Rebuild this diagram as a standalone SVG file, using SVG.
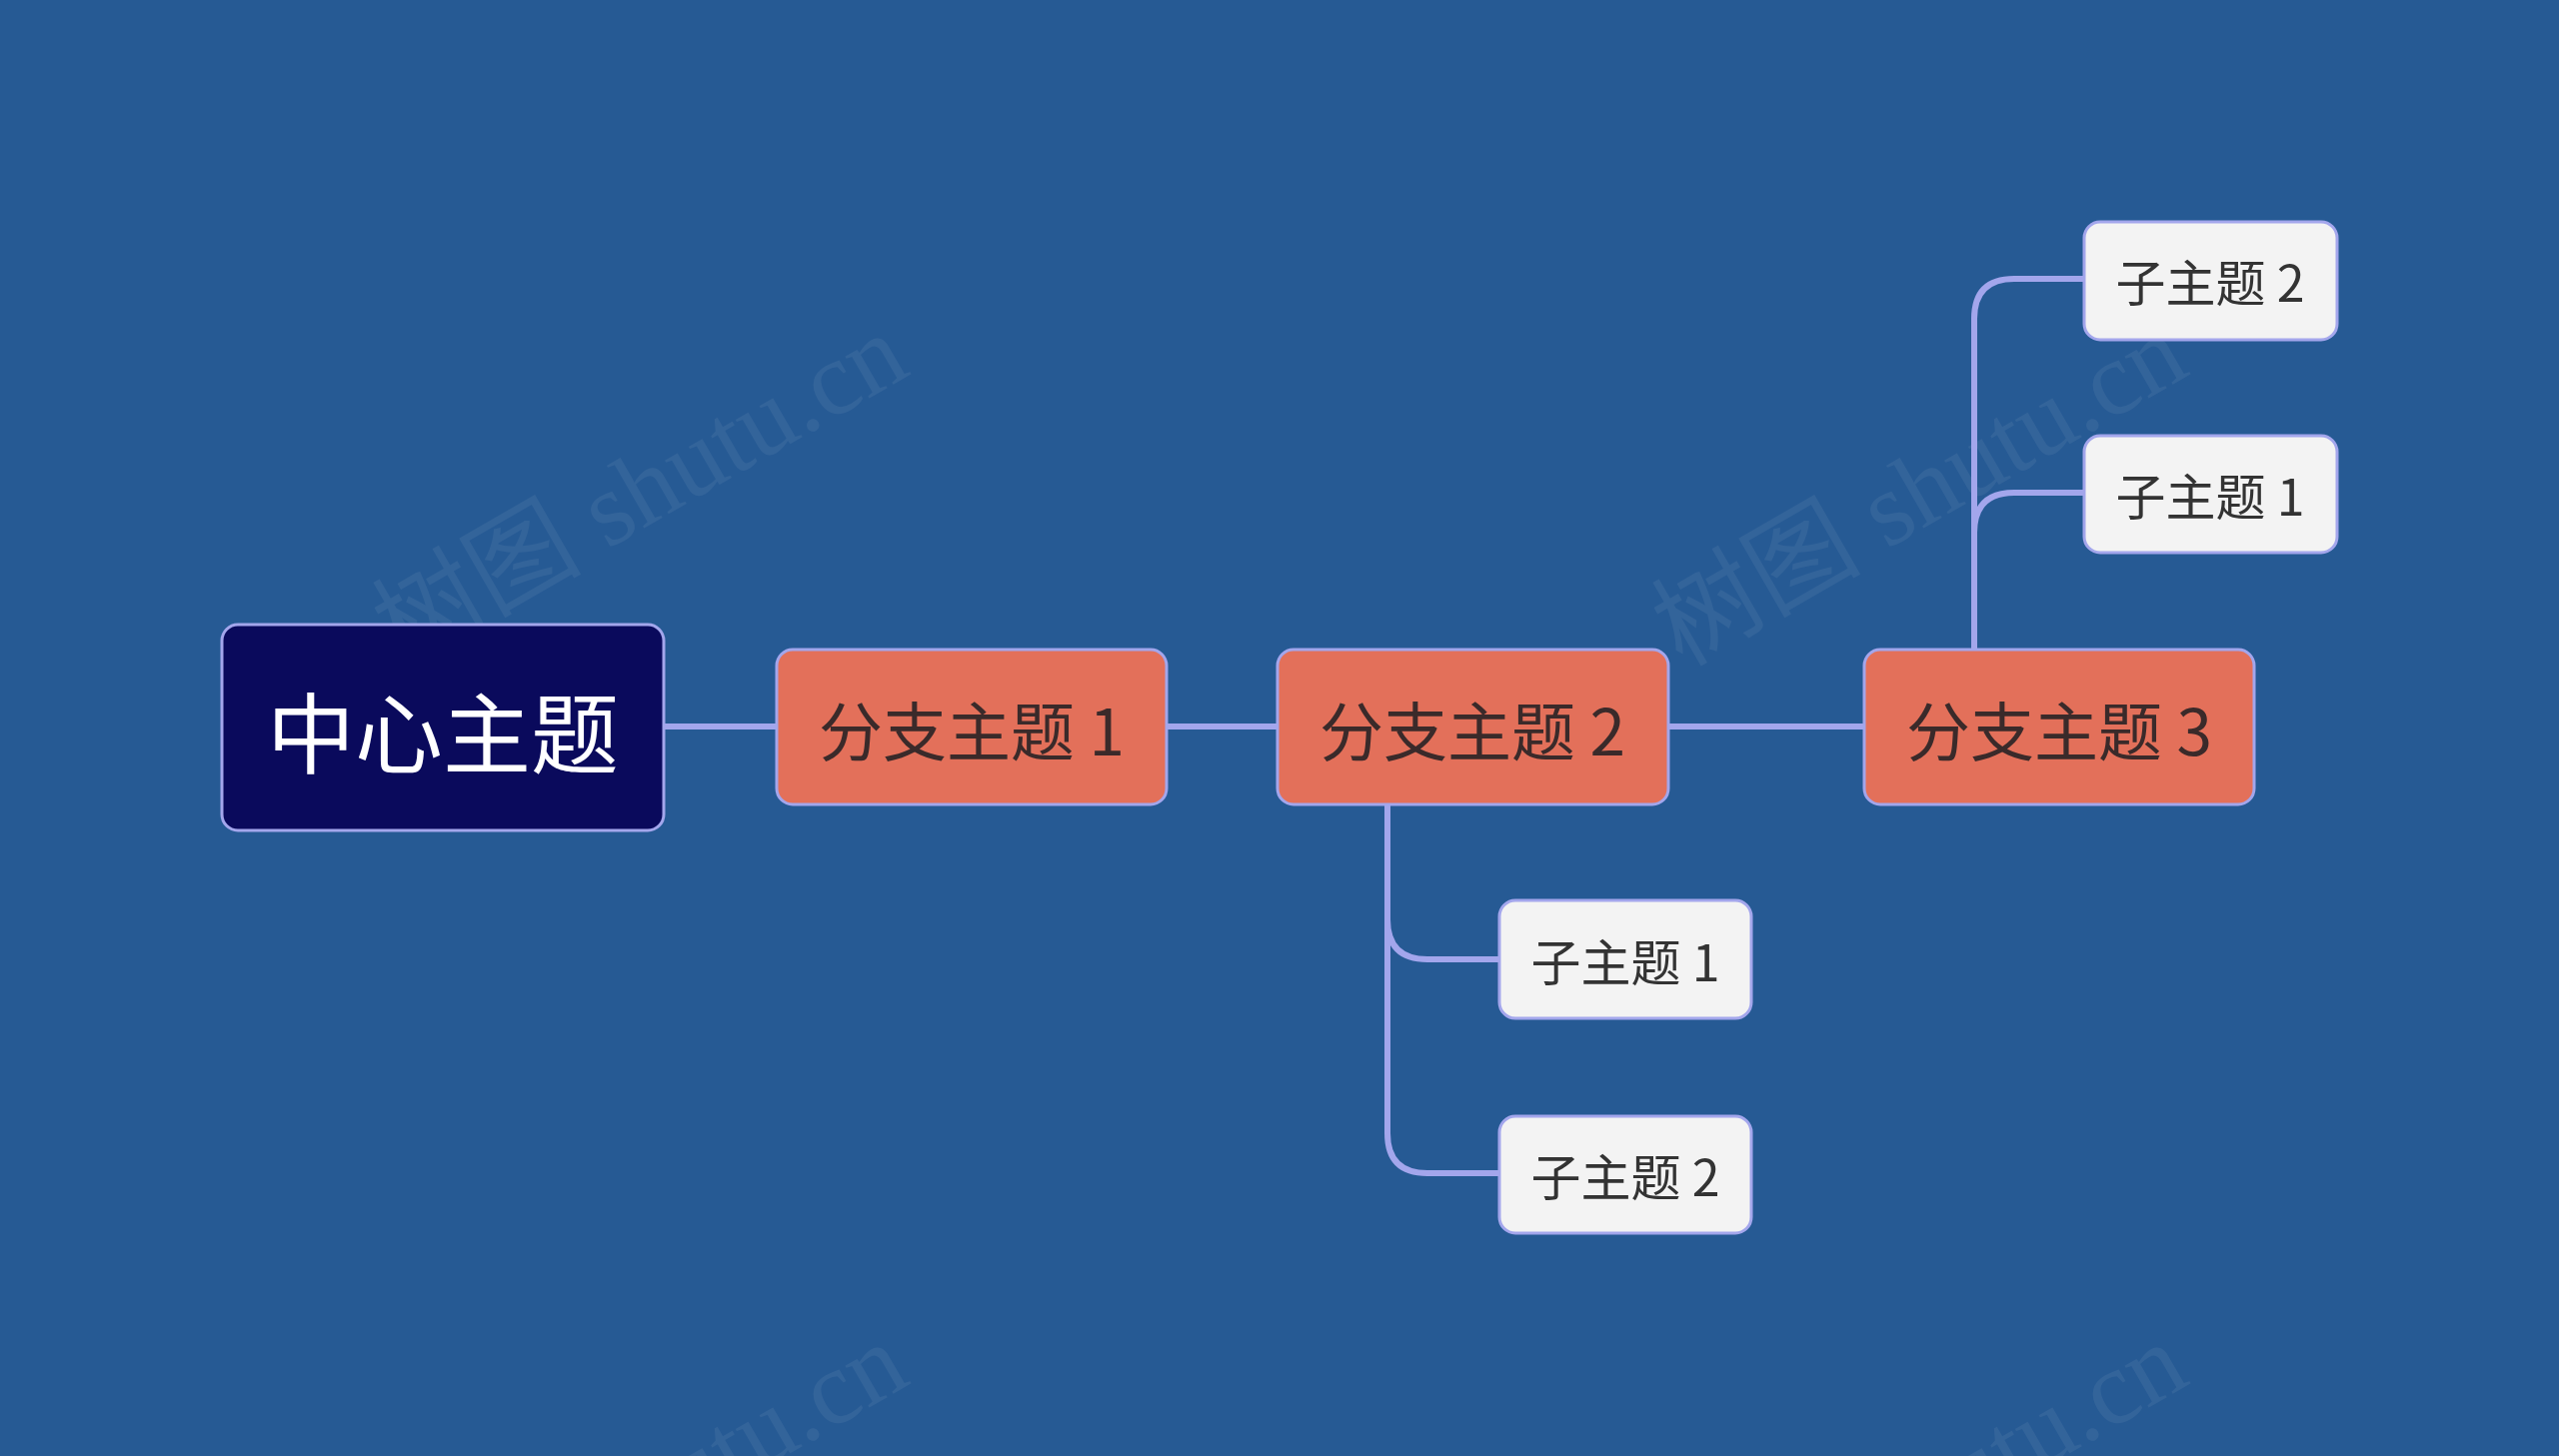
<svg xmlns="http://www.w3.org/2000/svg" width="2560" height="1457" viewBox="0 0 2560 1457">
<style>
.c{fill:none;stroke:#a3a6ec;stroke-width:6}
.b rect{fill:#e3705a;stroke:#a3a6ec;stroke-width:3}
.s rect{fill:#f3f3f3;stroke:#a3a6ec;stroke-width:3}
text{font-family:"Noto Sans CJK SC","Noto Sans",sans-serif;text-anchor:middle;dominant-baseline:central}
.b text{font-size:64px;fill:#3a2a2a}
.s text{font-size:50px;fill:#333}
.w{font-size:105px;fill:#ffffff;opacity:0.06;font-family:"Liberation Serif","Noto Sans CJK SC",serif}
</style>
<rect width="2560" height="1457" fill="#265a94"/>
<g id="watermarks">
<text class="w" x="640" y="490" transform="rotate(-30 640 490)">树图 shutu.cn</text>
<text class="w" x="1920" y="490" transform="rotate(-30 1920 490)">树图 shutu.cn</text>
<text class="w" x="640" y="1500" transform="rotate(-30 640 1500)">树图 shutu.cn</text>
<text class="w" x="1920" y="1500" transform="rotate(-30 1920 1500)">树图 shutu.cn</text>
</g>
<g id="connectors">
<path class="c" d="M664 727H777M1167 727H1278M1669 727H1865"/>
<path class="c" d="M1388 805V920Q1388 960 1428 960H1500M1388 920V1134Q1388 1174 1428 1174H1500"/>
<path class="c" d="M1975 650V533Q1975 493 2015 493H2085M1975 533V319Q1975 279 2015 279H2085"/>
</g>
<g id="center"><rect x="222" y="625" width="442" height="206" rx="16" fill="#0a0a5c" stroke="#a3a6ec" stroke-width="3"/><text x="443" y="728" font-size="88" fill="#fff">中心主题</text></g>
<g id="b1" class="b"><rect x="777" y="650" width="390" height="155" rx="16"/><text x="972" y="728">分支主题 1</text></g>
<g id="b2" class="b"><rect x="1278" y="650" width="391" height="155" rx="16"/><text x="1473" y="728">分支主题 2</text></g>
<g id="b3" class="b"><rect x="1865" y="650" width="390" height="155" rx="16"/><text x="2060" y="728">分支主题 3</text></g>
<g id="s21" class="s"><rect x="1500" y="901" width="252" height="118" rx="16"/><text x="1626" y="960">子主题 1</text></g>
<g id="s22" class="s"><rect x="1500" y="1117" width="252" height="117" rx="16"/><text x="1626" y="1175">子主题 2</text></g>
<g id="s32" class="s"><rect x="2085" y="222" width="253" height="118" rx="16"/><text x="2211" y="280">子主题 2</text></g>
<g id="s31" class="s"><rect x="2085" y="436" width="253" height="117" rx="16"/><text x="2211" y="494">子主题 1</text></g>
</svg>
